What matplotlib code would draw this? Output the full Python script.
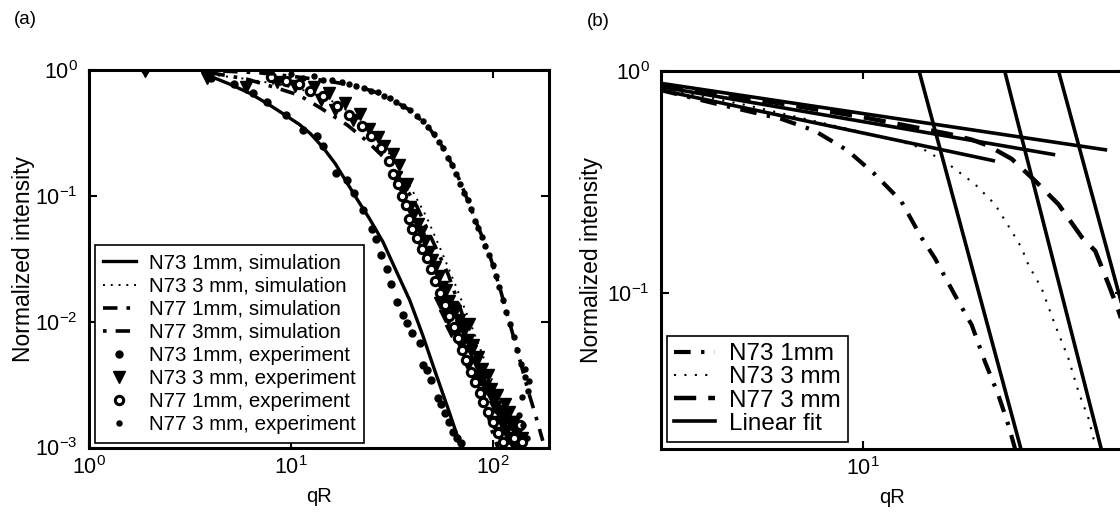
import numpy as np
import matplotlib
matplotlib.use("Agg")
import matplotlib.pyplot as plt
from matplotlib.ticker import LogLocator, NullLocator

plt.rcParams['font.family'] = ['Liberation Sans', 'DejaVu Sans']
plt.rcParams['mathtext.default'] = 'regular'

# ---------------- panel (a): simulations ----------------
n73_1mm_sim_x = [4.0, 5.0, 6.3, 7.8, 9.4, 11.0, 12.5, 14.5, 16.6, 18.8, 21.2, 24.5, 28.6, 33.0, 38.8, 45.0, 51.6, 60.0, 68.7]
n73_1mm_sim_y = [0.89, 0.77, 0.65, 0.53, 0.437, 0.37, 0.312, 0.24, 0.18, 0.13, 0.095, 0.066, 0.043, 0.026, 0.0148, 0.0078, 0.0041, 0.00205, 0.00108]

n73_3mm_sim_x = [4.0, 6.0, 9.0, 13.0, 17.0, 22.0, 28.0, 34.0, 40.0, 47.0, 55.0, 65.0, 77.0, 90.0, 105.0, 120.0, 135.0]
n73_3mm_sim_y = [0.92, 0.85, 0.76, 0.66, 0.54, 0.40, 0.27, 0.17, 0.11, 0.068, 0.038, 0.02, 0.01, 0.0052, 0.0027, 0.0016, 0.001]

n77_1mm_sim_x = [4.0, 6.0, 8.5, 11.0, 14.0, 19.0, 24.0, 30.0, 36.0, 42.0, 50.0, 60.0, 70.0, 80.0, 90.0, 100.0, 106.0]
n77_1mm_sim_y = [0.95, 0.85, 0.72, 0.63, 0.50, 0.366, 0.27, 0.19, 0.125, 0.083, 0.045, 0.024, 0.012, 0.0055, 0.0025, 0.0013, 0.001]

n77_3mm_sim_x = [4.0, 7.0, 11.5, 15.0, 18.0, 21.0, 26.0, 32.0, 39.0, 48.0, 56.5, 66.4, 75.2, 84.9, 95.9, 108.0, 117.0, 127.0, 138.0, 150.0, 163.0, 177.0]
n77_3mm_sim_y = [0.99, 0.95, 0.87, 0.82, 0.78, 0.75, 0.67, 0.575, 0.479, 0.353, 0.244, 0.15, 0.092, 0.056, 0.035, 0.019, 0.012, 0.0075, 0.0046, 0.0028, 0.0018, 0.00113]

# ---------------- panel (a): experiments ----------------
n73_1mm_exp_x = [1.9, 4.0, 5.2, 6.5, 7.6, 9.5, 11.5, 13.4, 14.5, 16.8, 18.9, 20.5, 22.8, 25.1, 26.5, 28.0, 30.0, 31.5,
                 33.4, 35.8, 37.5, 39.6, 43.5, 45.0, 47.5, 49.7, 53.4, 55.5, 57.9, 60.5, 63.4, 66.5, 70.0]
n73_1mm_exp_y = [1.0, 0.87, 0.78, 0.66, 0.56, 0.44, 0.333, 0.299, 0.25, 0.151, 0.134, 0.105, 0.077, 0.055, 0.045, 0.034, 0.026, 0.020,
                 0.0144, 0.0113, 0.0097, 0.0081, 0.00676, 0.00452, 0.0041, 0.00343, 0.00247, 0.0022, 0.00188, 0.0016, 0.00133, 0.0012, 0.00108]

n73_3mm_exp_x = [1.9, 3.85, 6.0, 8.5, 10.5, 13.0, 14.1, 15.5, 16.6, 18.5, 20.4, 22.0, 24.5, 27.1, 29.0, 31.9, 33.2, 34.5,
                 36.1, 37.5, 39.1, 40.5, 42.5, 44.0, 46.1, 48.5, 50.0, 52.0, 54.0, 56.0, 58.8, 61.0, 63.0, 65.1, 68.0,
                 70.0, 72.1, 75.0, 78.2, 80.0, 83.0, 86.6, 90.0, 92.0, 95.9, 100.0, 103.0, 106.0, 110.0, 113.0, 117.0,
                 121.0, 125.0, 127.0, 130.0, 122.0, 134.0, 58.0, 76.0, 62.0, 47.0, 43.0, 88.0, 98.0, 115.0,
                 75.0, 85.0, 95.0, 105.0, 115.0, 120.0, 128.0, 135.0, 140.0, 100.0, 108.0, 90.0, 82.0, 70.0, 66.0, 60.0, 55.0]
n73_3mm_exp_y = [0.98, 0.86, 0.73, 0.80, 0.75, 0.73, 0.575, 0.66, 0.48, 0.55, 0.40, 0.45, 0.34, 0.294, 0.25, 0.216, 0.141, 0.175,
                 0.110, 0.125, 0.081, 0.070, 0.060, 0.052, 0.044, 0.036, 0.031, 0.027, 0.023, 0.019, 0.0177, 0.0145, 0.013, 0.0122, 0.0103,
                 0.0092, 0.0085, 0.0072, 0.0059, 0.0065, 0.0048, 0.0041, 0.0036, 0.0031, 0.0028, 0.0024, 0.0021, 0.00195, 0.0018, 0.0015, 0.00135,
                 0.0012, 0.0011, 0.00106, 0.0013, 0.0016, 0.0011, 0.011, 0.0095, 0.0085, 0.034, 0.045, 0.0042, 0.0029, 0.0017,
                 0.0045, 0.0052, 0.0038, 0.0026, 0.0022, 0.0019, 0.0016, 0.0014, 0.0012, 0.0016, 0.0013, 0.0027, 0.0037, 0.0065, 0.0082, 0.0105, 0.014]

n77_1mm_exp_x = [8.0, 9.5, 11.0, 12.5, 14.5, 17.0, 19.5, 22.5, 25.0, 28.0, 30.5, 32.0, 34.0, 35.5, 37.0, 38.5, 40.0, 42.0,
                 44.5, 47.0, 49.5, 52.0, 55.0, 58.0, 61.0, 64.0, 67.0, 70.5, 74.0, 78.0, 82.0, 86.0, 90.0, 95.0, 100.0,
                 106.0, 112.0, 128.0, 136.0, 140.0]
n77_1mm_exp_y = [0.88, 0.82, 0.78, 0.68, 0.62, 0.52, 0.44, 0.36, 0.30, 0.24, 0.19, 0.15, 0.125, 0.10, 0.085, 0.066, 0.055, 0.046,
                 0.038, 0.032, 0.026, 0.021, 0.017, 0.0135, 0.011, 0.009, 0.0074, 0.006, 0.005, 0.004, 0.0033, 0.0027, 0.0023, 0.0019, 0.0016,
                 0.0013, 0.0011, 0.0012, 0.0015, 0.0011]

n77_3mm_exp_x = [1.9, 4.0, 8.0, 10.0, 11.5, 13.0, 14.5, 16.0, 18.0, 19.5, 21.0, 23.0, 25.0, 27.0, 29.0, 31.0, 33.0, 36.0,
                 39.0, 42.0, 45.0, 48.0, 51.0, 54.0, 57.0, 60.0, 63.0, 66.0, 69.0, 72.0, 75.0, 78.0, 82.0, 85.0, 88.0,
                 92.0, 96.0, 100.0, 104.0, 108.0, 112.0, 117.0, 122.0, 127.0, 132.0, 138.0, 144.0, 150.0, 145.0, 152.0,
                 140.0, 135.0, 142.0, 148.0]
n77_3mm_exp_y = [1.0, 0.99, 0.97, 0.93, 0.87, 0.89, 0.84, 0.83, 0.80, 0.77, 0.74, 0.72, 0.68, 0.67, 0.62, 0.60, 0.56, 0.52,
                 0.48, 0.43, 0.39, 0.35, 0.31, 0.27, 0.24, 0.20, 0.175, 0.15, 0.125, 0.105, 0.092, 0.078, 0.063, 0.056, 0.047,
                 0.040, 0.034, 0.028, 0.023, 0.019, 0.015, 0.012, 0.0095, 0.0075, 0.006, 0.0046, 0.0036, 0.0028, 0.0042, 0.0034,
                 0.0025, 0.0018, 0.0015, 0.0012]

# ---------------- panel (b) ----------------
b_n73_1mm_x = [2.0, 3.0, 4.2, 5.2, 6.79, 8.87, 11.0, 13.6, 16.0, 17.8, 20.9, 23.9, 26.6, 29.6, 32.1, 33.8]
b_n73_1mm_y = [0.82, 0.72, 0.65, 0.61, 0.54, 0.439, 0.344, 0.26, 0.178, 0.144, 0.098, 0.072, 0.049, 0.0347, 0.0253, 0.0199]

b_n73_3mm_x = [2.0, 4.0, 7.0, 10.0, 13.0, 16.0, 19.8, 24.5, 28.8, 32.9, 35.6, 37.6, 41.8, 46.5, 51.8, 56.1, 60.8, 64.1]
b_n73_3mm_y = [0.84, 0.70, 0.59, 0.53, 0.49, 0.45, 0.382, 0.31, 0.251, 0.19, 0.16, 0.134, 0.105, 0.072, 0.0507, 0.0359, 0.0272, 0.0206]

b_n77_3mm_x = [2.0, 5.0, 10.0, 15.0, 20.0, 24.0, 27.2, 32.9, 39.6, 47.8, 57.7, 64.1, 71.4, 77.4, 82.0]
b_n77_3mm_y = [0.86, 0.72, 0.62, 0.56, 0.52, 0.49, 0.462, 0.402, 0.321, 0.251, 0.178, 0.155, 0.109, 0.0826, 0.066]

# linear fits: (x start, x end), (y start, y end)
fit_shallow_x = [(2.0, 28.4), (2.0, 45.9), (2.0, 69.5)]
fit_shallow_y = [(0.82, 0.395), (0.849, 0.421), (0.88, 0.442)]
fit_steep_x = [(15.7, 35.6), (31.1, 67.6), (47.8, 109.0)]
fit_steep_y = [(1.0, 0.0194), (1.0, 0.0194), (1.0, 0.0194)]

W, H = 1120, 513
fig = plt.figure(figsize=(W / 100, H / 100), dpi=100)
ax1 = fig.add_axes([89 / W, (H - 447.5) / H, 460 / W, 377.5 / H])
ax2 = fig.add_axes([661 / W, (H - 448.5) / H, 462 / W, 377.5 / H])

# panel (a)
ax1.plot(n73_1mm_sim_x, n73_1mm_sim_y, '-', color='k', lw=2.4, label='N73 1mm, simulation')
ax1.plot(n73_3mm_sim_x, n73_3mm_sim_y, color='k', lw=1.4, dashes=(1, 3), label='N73 3 mm, simulation')
ax1.plot(n77_1mm_sim_x, n77_1mm_sim_y, color='k', lw=2.6, dashes=(4, 2.5, 1, 2.5), label='N77 1mm, simulation')
ax1.plot(n77_3mm_sim_x, n77_3mm_sim_y, color='k', lw=2.6, dashes=(1, 2.5, 4, 2.5), label='N77 3mm, simulation')
ax1.plot(n73_1mm_exp_x, n73_1mm_exp_y, 'o', color='k', ms=5, ls='none', label='N73 1mm, experiment')
ax1.plot(n73_3mm_exp_x, n73_3mm_exp_y, 'v', color='k', ms=9, ls='none', label='N73 3 mm, experiment')
ax1.plot(n77_1mm_exp_x, n77_1mm_exp_y, 'o', mfc='white', mec='k', mew=2.2, ms=6, ls='none', label='N77 1mm, experiment')
ax1.plot(n77_3mm_exp_x, n77_3mm_exp_y, 'o', color='k', ms=3.6, ls='none', label='N77 3 mm, experiment')

leg1 = ax1.legend(loc='lower left', bbox_to_anchor=(0.012, 0.013), borderaxespad=0, fontsize=14.8,
                  handlelength=1.6, handletextpad=0.65, labelspacing=0.2, borderpad=0.4,
                  frameon=True, fancybox=False, edgecolor='k', framealpha=1)
leg1.get_frame().set_linewidth(1.2)

# panel (b)
ax2.plot(b_n73_1mm_x, b_n73_1mm_y, color='k', lw=3.0, dashes=(4, 2.5, 0.8, 2.5), label='N73 1mm')
ax2.plot(b_n73_3mm_x, b_n73_3mm_y, color='k', lw=1.5, dashes=(1, 4), label='N73 3 mm')
ax2.plot(b_n77_3mm_x, b_n77_3mm_y, color='k', lw=3.2, dashes=(5, 2.7), label='N77 3 mm')
for i, (fx, fy) in enumerate(zip(fit_shallow_x, fit_shallow_y)):
    ax2.plot(fx, fy, '-', color='k', lw=2.6, label='Linear fit' if i == 0 else None)
for fx, fy in zip(fit_steep_x, fit_steep_y):
    ax2.plot(fx, fy, '-', color='k', lw=2.6)

leg2 = ax2.legend(loc='lower left', bbox_to_anchor=(0.012, 0.017), borderaxespad=0, fontsize=17.5,
                  handlelength=1.7, handletextpad=0.55, labelspacing=0.05, borderpad=0.3,
                  frameon=True, fancybox=False, edgecolor='k', framealpha=1)
leg2.get_frame().set_linewidth(1.2)

for ax in (ax1, ax2):
    ax.set_xscale('log')
    ax.set_yscale('log')
    ax.xaxis.set_major_locator(LogLocator(base=10))
    ax.yaxis.set_major_locator(LogLocator(base=10))
    ax.xaxis.set_minor_locator(NullLocator())
    ax.yaxis.set_minor_locator(NullLocator())
    ax.tick_params(which='major', direction='in', top=True, right=True, length=6, width=1.5, labelsize=15.5)
    ax.tick_params(axis='y', pad=8)
    ax.tick_params(axis='x', pad=6)
    for s in ax.spines.values():
        s.set_linewidth(2.2)
    ax.set_xlabel('qR', fontsize=14.5)
    ax.set_ylabel('Normalized intensity', fontsize=16.5)
    ax.xaxis.set_label_coords(0.5, -0.105)

ax1.set_xlim(1, 190)
ax1.set_ylim(1e-3, 1)
ax2.set_xlim(2, 80)
ax2.set_ylim(0.02, 1)
ax1.yaxis.set_label_coords(-0.118, 0.5)
ax2.yaxis.set_label_coords(-0.125, 0.5)
ax2.spines['right'].set_visible(False)

fig.text(14 / W, 1 - 20 / H, '(a)', fontsize=13.5, va='center', ha='left')
fig.text(587 / W, 1 - 21 / H, '(b)', fontsize=13.5, va='center', ha='left')

fig.savefig('out.png', dpi=100)
